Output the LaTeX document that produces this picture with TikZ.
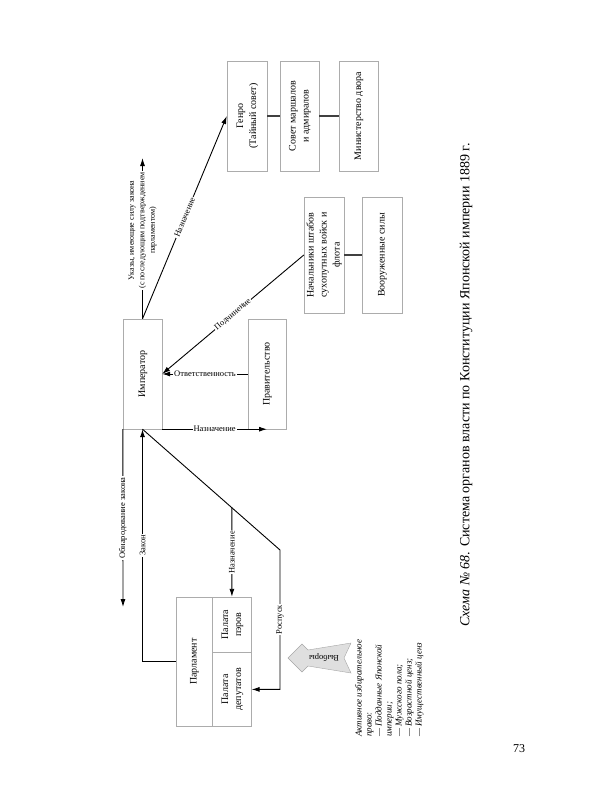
\documentclass[tikz,border=0pt]{standalone}
\usepackage{fontspec}
\setmainfont{Liberation Serif}
\usetikzlibrary{arrows.meta,positioning}

\newcommand{\rottext}[1]{\rotatebox{90}{\begin{tabular}{@{}c@{}}#1\end{tabular}}}

\tikzset{
  box/.style={draw=gray!65, thin, inner sep=0pt, font=\fontsize{10}{13}\selectfont},
  lbl/.style={fill=white, inner sep=1pt, font=\fontsize{8.5}{10}\selectfont},
  arr/.style={->, line width=0.9pt},
  link/.style={line width=1.6pt, black!75},
}

\begin{document}
\begin{tikzpicture}[>={Latex[length=8pt,width=5pt]},x=1pt,y=1pt]
\useasboundingbox (0,0) rectangle (600,-800);
% boxes
\node[box, minimum width=39pt, minimum height=110pt] (imp) at (142.5,-374) {\rottext{Император}};
\node[box, minimum width=38pt, minimum height=110pt] (prav) at (267,-374) {\rottext{Правительство}};
\node[box, minimum width=40pt, minimum height=110pt] (genro) at (247,-116) {\rottext{Генро\\(Тайный совет)}};
\node[box, minimum width=39pt, minimum height=110pt] (sovet) at (299.5,-116) {\rottext{Совет маршалов\\и адмиралов}};
\node[box, minimum width=39pt, minimum height=110pt] (dvor) at (358.5,-116) {\rottext{Министерство двора}};
\node[box, minimum width=40pt, minimum height=116pt] (shtab) at (324,-255) {\rottext{Начальники штабов\\сухопутных войск и\\флота}};
\node[box, minimum width=40pt, minimum height=116pt] (armia) at (382,-255) {\rottext{Вооруженные силы}};
% parliament
\node[box, minimum width=36pt, minimum height=129pt] (parl) at (194,-661.5) {\rottext{Парламент}};
\node[box, minimum width=39pt, minimum height=55pt, anchor=north west] (pery) at (parl.north east) {\rottext{Палата\\пэров}};
\node[box, minimum width=39pt, minimum height=74pt, below=0pt of pery] (deput) {\rottext{Палата\\депутатов}};
% links
\draw[link] (genro) -- (sovet);
\draw[link] (sovet) -- (dvor);
\draw[link] (shtab) -- (armia);
% arrows around the emperor
\coordinate (ukaz) at (142.5,-158);
\draw[arr] (imp.north) -- node[lbl, rotate=90, pos=0.55, align=center, font=\fontsize{8}{10.5}\selectfont]
  {Указы, имеющие силу закона\\(с последующим подтверждением\\парламентом)} (ukaz);
\draw[arr] (imp.north) -- node[lbl, sloped] {Назначение} (genro.west);
\draw[arr] (shtab.west) -- node[lbl, sloped] {Подчинение} (imp.east);
\draw[arr] (prav.west) -- node[lbl] {Ответственность} (imp.east);
\draw[arr] (imp.south east) -- node[lbl] {Назначение} (prav.south);
\coordinate (obn) at (123,-607);
\draw[arr] (imp.south west) -- node[lbl, rotate=90] {Обнародование закона} (obn);
\draw[arr] (parl.west) -| node[lbl, rotate=90, pos=0.75] {Закон} (imp.south);
\coordinate (rospusk) at (280,-550);
\draw[arr] (imp.south) -- (rospusk) |- node[lbl, rotate=90, pos=0.25] {Роспуск} (deput.east);
\coordinate (vetv) at (intersection of imp.south--rospusk and pery.north--pery.south);
\draw[arr] (vetv) -- node[lbl, rotate=90] {Назначение} (pery.north);
% elections
\draw[fill=gray!25, draw=gray!70] (288,-658) -- (302,-644) -- (308,-650) -- (351,-643) -- (344,-658)
  -- (351,-673) -- (308,-666) -- (302,-672) -- cycle;
\node[rotate=180, font=\fontsize{8.5}{9}\selectfont] (vybory) at (324,-658) {Выборы};
\node[rotate=90, anchor=north west, align=left, inner sep=0pt, font=\fontsize{9}{10}\selectfont\itshape] (pravo) at (355,-737)
  {Активное избирательное\\право:\\— Подданные Японской\\империи;\\— Мужского пола;\\— Возрастной ценз;\\— Имущественный ценз};
% caption
\node[rotate=90, font=\fontsize{14}{16}\selectfont] (caption) at (466,-385)
  {\textit{Схема №~68}. Система органов власти по Конституции Японской империи 1889~г.};
\node[font=\fontsize{12}{14}\selectfont] (page) at (519,-749) {73};
\end{tikzpicture}
\end{document}
